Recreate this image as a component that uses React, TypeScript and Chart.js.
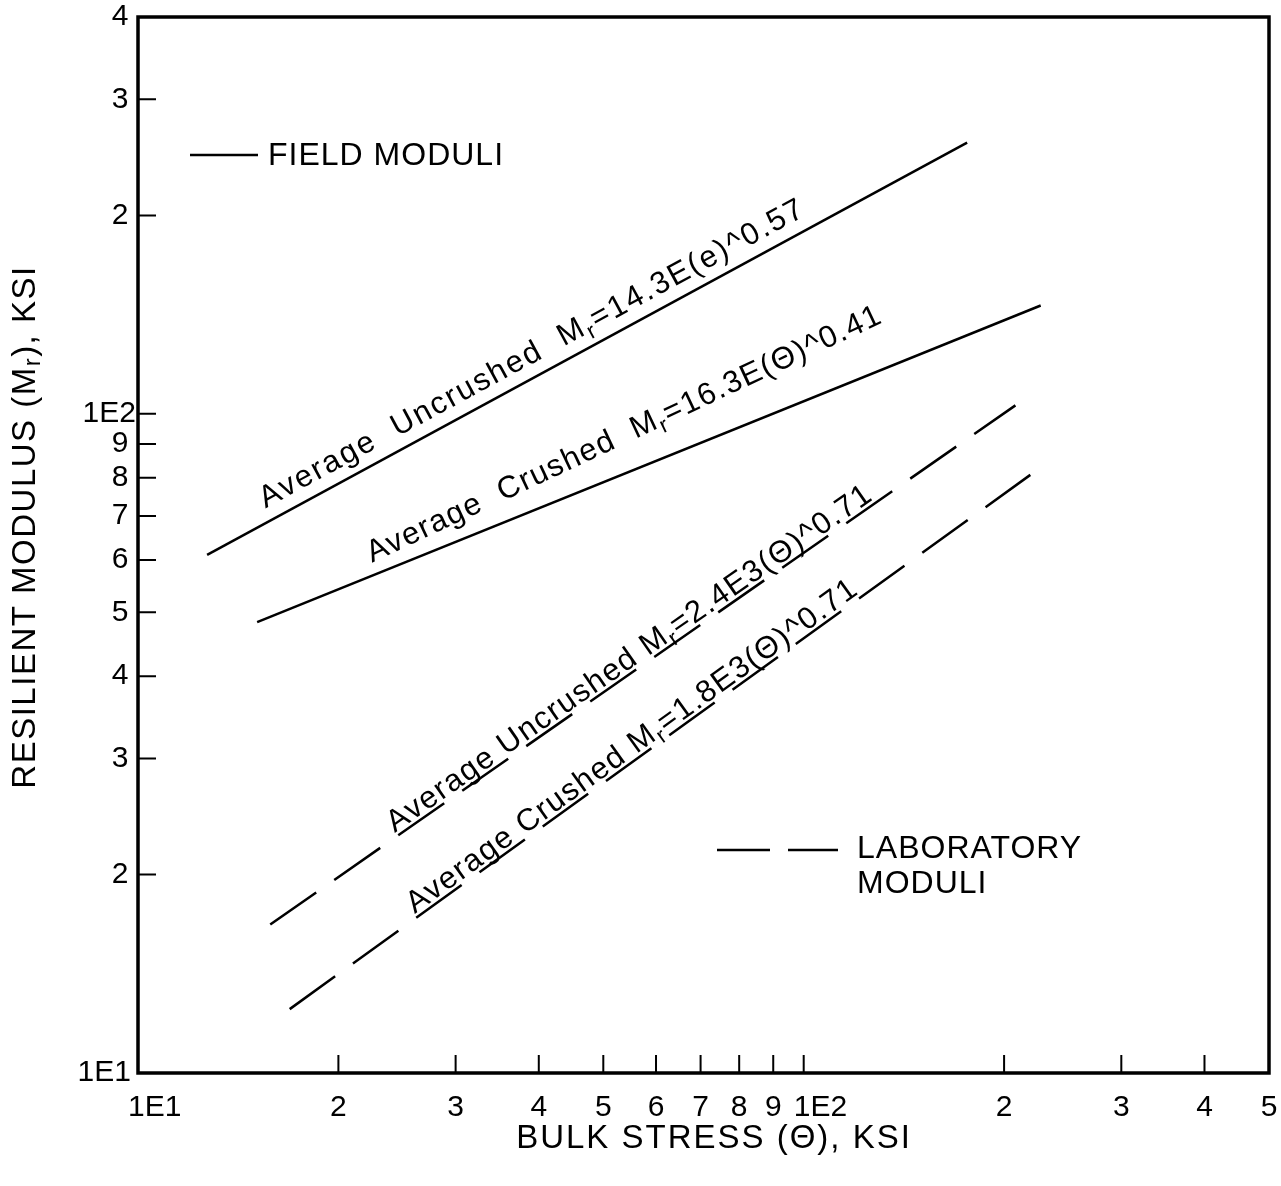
import React, { useEffect, useRef } from 'react';
import { Chart, registerables } from 'chart.js';
Chart.register(...registerables);

// ---- data ----
const FIELD_UNCRUSHED_X = [12.7, 176];
const FIELD_UNCRUSHED_Y = [61.1, 258];
const FIELD_CRUSHED_X = [15.1, 227];
const FIELD_CRUSHED_Y = [48.3, 146];
const LAB_UNCRUSHED_X = [15.8, 208];
const LAB_UNCRUSHED_Y = [16.8, 103];
const LAB_CRUSHED_X = [16.9, 219];
const LAB_CRUSHED_Y = [12.5, 80.8];

const X_TICKS = [10, 20, 30, 40, 50, 60, 70, 80, 90, 100, 200, 300, 400, 500];
const X_TICK_LABELS = ['1E1', '2', '3', '4', '5', '6', '7', '8', '9', '1E2', '2', '3', '4', '5'];
const Y_TICKS = [10, 20, 30, 40, 50, 60, 70, 80, 90, 100, 200, 300, 400];
const Y_TICK_LABELS = ['1E1', '2', '3', '4', '5', '6', '7', '8', '9', '1E2', '2', '3', '4'];

type Seg = { t: string; sub?: boolean };
const LINE_LABELS: Seg[][] = [
  [{ t: 'Average  Uncrushed  M' }, { t: 'r', sub: true }, { t: '=14.3E(e)^0.57' }],
  [{ t: 'Average  Crushed  M' }, { t: 'r', sub: true }, { t: '=16.3E(\u0398)^0.41' }],
  [{ t: 'Average Uncrushed M' }, { t: 'r', sub: true }, { t: '=2.4E3(\u0398)^0.71' }],
  [{ t: 'Average Crushed M' }, { t: 'r', sub: true }, { t: '=1.8E3(\u0398)^0.71' }],
];
// where each label starts along its line (fraction), its lift above the line (px), spacing
const LABEL_POS = [
  { t: 0.085, lift: 13, extraDeg: 0, spacing: 2 },
  { t: 0.153, lift: 12, extraDeg: -3.2, spacing: 1.4 },
  { t: 0.17, lift: 4, extraDeg: 0, spacing: 1.5 },
  { t: 0.172, lift: 4, extraDeg: 0, spacing: 1.5 },
];

const X_TITLE: Seg[] = [{ t: 'BULK STRESS (\u0398), KSI' }];
const Y_TITLE: Seg[] = [{ t: 'RESILIENT MODULUS (M' }, { t: 'r', sub: true }, { t: '), KSI' }];

const FONT = '"Liberation Sans", Arial, sans-serif';

function richWidth(ctx: CanvasRenderingContext2D, segs: Seg[], size: number, spacing: number) {
  let w = 0;
  for (const s of segs) {
    const fs = s.sub ? size * 0.72 : size;
    ctx.font = `${fs}px ${FONT}`;
    (ctx as any).letterSpacing = spacing + 'px';
    w += ctx.measureText(s.t).width;
  }
  return w;
}

function drawRich(ctx: CanvasRenderingContext2D, segs: Seg[], x: number, y: number, size: number, spacing: number) {
  let cx = x;
  ctx.textAlign = 'left';
  for (const s of segs) {
    const fs = s.sub ? size * 0.72 : size;
    ctx.font = `${fs}px ${FONT}`;
    (ctx as any).letterSpacing = spacing + 'px';
    ctx.fillText(s.t, cx, y + (s.sub ? size * 0.22 : 0));
    cx += ctx.measureText(s.t).width;
  }
}

const decorPlugin = {
  id: 'decor',
  afterDatasetsDraw(chart: any) {
    const { ctx, chartArea: a, scales } = chart;
    const xs = scales.x;
    const ys = scales.y;
    ctx.save();
    ctx.strokeStyle = '#000';
    ctx.fillStyle = '#000';
    // frame
    ctx.lineWidth = 3.5;
    ctx.strokeRect(a.left, a.top, a.right - a.left, a.bottom - a.top);
    // inward tick marks
    ctx.lineWidth = 2;
    ctx.beginPath();
    X_TICKS.slice(1, -1).forEach((v) => {
      const px = xs.getPixelForValue(v);
      ctx.moveTo(px, a.bottom);
      ctx.lineTo(px, a.bottom - 18);
    });
    Y_TICKS.slice(1, -1).forEach((v) => {
      const py = ys.getPixelForValue(v);
      ctx.moveTo(a.left, py);
      ctx.lineTo(a.left + 18, py);
    });
    ctx.stroke();

    // tick labels, placed from the scales
    ctx.font = `30px ${FONT}`;
    (ctx as any).letterSpacing = '0px';
    ctx.textBaseline = 'middle';
    X_TICKS.forEach((v, i) => {
      const px = xs.getPixelForValue(v);
      const lab = X_TICK_LABELS[i];
      if (lab.startsWith('1E')) {
        ctx.textAlign = 'left';
        ctx.fillText(lab, px - 10, a.bottom + 35);
      } else {
        ctx.textAlign = 'center';
        ctx.fillText(lab, px, a.bottom + 35);
      }
    });
    Y_TICKS.forEach((v, i) => {
      const py = ys.getPixelForValue(v);
      const lab = Y_TICK_LABELS[i];
      if (lab.startsWith('1E')) {
        ctx.textAlign = 'right';
        ctx.fillText(lab, v === 10 ? a.left - 7 : a.left - 2, py);
      } else {
        ctx.textAlign = 'center';
        ctx.fillText(lab, a.left - 18, py);
      }
    });

    // labels along lines
    ctx.textBaseline = 'alphabetic';
    chart.data.datasets.forEach((ds: any, i: number) => {
      const p0 = { x: xs.getPixelForValue(ds.data[0].x), y: ys.getPixelForValue(ds.data[0].y) };
      const p1 = { x: xs.getPixelForValue(ds.data[1].x), y: ys.getPixelForValue(ds.data[1].y) };
      const pos = LABEL_POS[i];
      const ang = Math.atan2(p1.y - p0.y, p1.x - p0.x) + (pos.extraDeg * Math.PI) / 180;
      const sx = p0.x + pos.t * (p1.x - p0.x);
      const sy = p0.y + pos.t * (p1.y - p0.y);
      ctx.save();
      ctx.translate(sx, sy);
      ctx.rotate(ang);
      drawRich(ctx, LINE_LABELS[i], 0, -pos.lift, 31, pos.spacing);
      ctx.restore();
    });

    // legends
    ctx.lineWidth = 2.5;
    ctx.setLineDash([]);
    ctx.beginPath();
    ctx.moveTo(190, 155);
    ctx.lineTo(258, 155);
    ctx.stroke();
    ctx.beginPath();
    ctx.moveTo(717, 850);
    ctx.lineTo(770, 850);
    ctx.moveTo(788, 850);
    ctx.lineTo(838, 850);
    ctx.stroke();
    ctx.textBaseline = 'middle';
    drawRich(ctx, [{ t: 'FIELD MODULI' }], 268, 156, 32, 1);
    drawRich(ctx, [{ t: 'LABORATORY' }], 857, 849, 32, 1);
    drawRich(ctx, [{ t: 'MODULI' }], 857, 884, 32, 1);

    // axis titles
    const wx = richWidth(ctx, X_TITLE, 33, 2);
    drawRich(ctx, X_TITLE, 714 - wx / 2, 1139, 33, 2);
    const wy = richWidth(ctx, Y_TITLE, 33, 1.5);
    ctx.save();
    ctx.translate(26, 527);
    ctx.rotate(-Math.PI / 2);
    drawRich(ctx, Y_TITLE, -wy / 2, 0, 33, 1.5);
    ctx.restore();

    ctx.restore();
  },
};

function pts(xs: number[], ys: number[]) {
  return xs.map((x, i) => ({ x, y: ys[i] }));
}

export default function App() {
  const ref = useRef<HTMLCanvasElement>(null);
  useEffect(() => {
    document.body.style.margin = '0';
    const canvas = ref.current!;
    const lineDs = (label: string, data: any, dashed: boolean) => ({
      label,
      data,
      borderColor: '#000',
      borderWidth: 2.5,
      pointRadius: 0,
      borderDash: dashed ? [56, 22] : [],
      fill: false,
      tension: 0,
    });
    const chart = new Chart(canvas, {
      type: 'line',
      data: {
        datasets: [
          lineDs('Field uncrushed', pts(FIELD_UNCRUSHED_X, FIELD_UNCRUSHED_Y), false),
          lineDs('Field crushed', pts(FIELD_CRUSHED_X, FIELD_CRUSHED_Y), false),
          lineDs('Lab uncrushed', pts(LAB_UNCRUSHED_X, LAB_UNCRUSHED_Y), true),
          lineDs('Lab crushed', pts(LAB_CRUSHED_X, LAB_CRUSHED_Y), true),
        ],
      },
      options: {
        animation: false,
        responsive: false,
        devicePixelRatio: 1,
        layout: { padding: { left: 0, right: 12, top: 17, bottom: 0 } },
        plugins: { legend: { display: false }, tooltip: { enabled: false } },
        scales: {
          x: {
            type: 'logarithmic',
            min: 10,
            max: 500,
            grid: { display: false, drawTicks: false },
            border: { display: false },
            afterBuildTicks: (s: any) => {
              s.ticks = X_TICKS.map((v) => ({ value: v }));
            },
            afterFit: (s: any) => {
              s.height = 113;
              s.paddingLeft = 0;
              s.paddingRight = 0;
            },
            ticks: { display: false, autoSkip: false },
          },
          y: {
            type: 'logarithmic',
            min: 10,
            max: 400,
            grid: { display: false, drawTicks: false },
            border: { display: false },
            afterBuildTicks: (s: any) => {
              s.ticks = Y_TICKS.map((v) => ({ value: v }));
            },
            afterFit: (s: any) => {
              s.width = 138;
              s.paddingTop = 0;
              s.paddingBottom = 0;
            },
            ticks: { display: false, autoSkip: false },
          },
        },
      } as any,
      plugins: [decorPlugin],
    });
    return () => chart.destroy();
  }, []);
  return (
    <div style={{ position: 'absolute', left: 0, top: 0, width: 1281, height: 1186, background: '#fff' }}>
      <canvas ref={ref} width={1281} height={1186} style={{ display: 'block' }} />
    </div>
  );
}
